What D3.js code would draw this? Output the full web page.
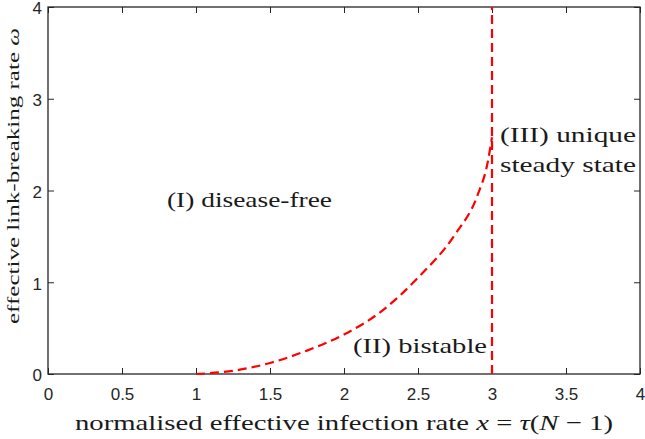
<!DOCTYPE html>
<html>
<head>
<meta charset="utf-8" />
<script src="https://cdn.jsdelivr.net/npm/d3@7"></script>
<style>
  body { margin: 0; background: #fff; }
</style>
</head>
<body>
<svg id="chart" width="645" height="439"></svg>
<script>
// boundary curve between region I and II
var curveX = [1, 1.25, 1.5, 1.75, 2, 2.25, 2.5, 2.75, 2.9, 2.97, 3.0];
var curveW = [0, 0.035, 0.12, 0.255, 0.43, 0.68, 1.05, 1.52, 1.94, 2.3, 2.58];
// vertical boundary at x = 3
var vertX = [3, 3];
var vertW = [0, 4];

var xTicks = [0, 0.5, 1, 1.5, 2, 2.5, 3, 3.5, 4];
var yTicks = [0, 1, 2, 3, 4];

var SERIF = "Liberation Serif";
var SANS = "Liberation Sans";

var M = { left: 48, top: 7, right: 640, bottom: 374 };
var svg = d3.select("#chart");
var x = d3.scaleLinear().domain([0, 4]).range([M.left, M.right]);
var y = d3.scaleLinear().domain([0, 4]).range([M.bottom, M.top]);

var fmt = function (d) { return String(d); };
var axCol = "#262626";

function styleAxis(g, noText) {
  g.select(".domain").remove();
  g.selectAll(".tick line").attr("stroke", axCol);
  g.selectAll(".tick text").attr("font-family", SANS).attr("font-size", 17).attr("fill", axCol);
  if (noText) g.selectAll(".tick text").remove();
}

// bottom / top
svg.append("g").attr("transform", "translate(0," + M.bottom + ")")
  .call(d3.axisBottom(x).tickValues(xTicks).tickFormat(fmt).tickSizeInner(-6).tickPadding(14))
  .call(function (g) { styleAxis(g); });
svg.append("g").attr("transform", "translate(0," + M.top + ")")
  .call(d3.axisTop(x).tickValues(xTicks).tickSizeInner(-6))
  .call(function (g) { styleAxis(g, true); });
// left / right
svg.append("g").attr("transform", "translate(" + M.left + ",0)")
  .call(d3.axisLeft(y).tickValues(yTicks).tickFormat(fmt).tickSizeInner(-6).tickPadding(6))
  .call(function (g) {
    styleAxis(g);
    g.selectAll(".tick text").attr("dy", "0.4em");
  });
svg.append("g").attr("transform", "translate(" + M.right + ",0)")
  .call(d3.axisRight(y).tickValues(yTicks).tickSizeInner(-6))
  .call(function (g) { styleAxis(g, true); });

svg.append("rect")
  .attr("x", M.left).attr("y", M.top)
  .attr("width", M.right - M.left).attr("height", M.bottom - M.top)
  .attr("fill", "none").attr("stroke", axCol).attr("stroke-width", 1.3);

var line = d3.line().x(function (d) { return x(d[0]); }).y(function (d) { return y(d[1]); });

svg.append("path")
  .datum(d3.zip(curveX, curveW))
  .attr("d", line.curve(d3.curveMonotoneX))
  .attr("fill", "none").attr("stroke", "#ff0000").attr("stroke-width", 2.2)
  .attr("stroke-dasharray", "9,5");

svg.append("path")
  .datum(d3.zip(vertX, vertW))
  .attr("d", d3.line().x(function (d) { return x(d[0]); }).y(function (d) { return y(d[1]); }))
  .attr("fill", "none").attr("stroke", "#ff0000").attr("stroke-width", 2.2)
  .attr("stroke-dasharray", "9,5");

// region labels
function label(t, px, py, w) {
  svg.append("text").attr("x", px).attr("y", py)
    .attr("font-family", SERIF).attr("fill", "#1a1a1a")
    .attr("font-size", 21).attr("textLength", w).attr("lengthAdjust", "spacingAndGlyphs").text(t);
}
label("(I) disease-free", 167, 207, 165);
label("(II) bistable", 353, 353, 134);
label("(III) unique", 500, 142, 136);
label("steady state", 500, 172, 136);

// axis titles
var xl = svg.append("text").attr("x", 75).attr("y", 430)
  .attr("font-family", SERIF).attr("fill", "#1a1a1a")
  .attr("font-size", 22).attr("textLength", 538).attr("lengthAdjust", "spacingAndGlyphs");
xl.append("tspan").text("normalised effective infection rate ");
xl.append("tspan").attr("font-style", "italic").text("x");
xl.append("tspan").text(" = ");
xl.append("tspan").attr("font-style", "italic").text("τ");
xl.append("tspan").text("(");
xl.append("tspan").attr("font-style", "italic").text("N");
xl.append("tspan").text(" − 1)");

var yl = svg.append("text")
  .attr("font-family", SERIF).attr("fill", "#1a1a1a")
  .attr("transform", "translate(19,324) rotate(-90)")
  .attr("font-size", 16).attr("textLength", 296).attr("lengthAdjust", "spacingAndGlyphs");
yl.append("tspan").text("effective link-breaking rate ");
yl.append("tspan").attr("font-style", "italic").text("ω");
</script>
</body>
</html>
